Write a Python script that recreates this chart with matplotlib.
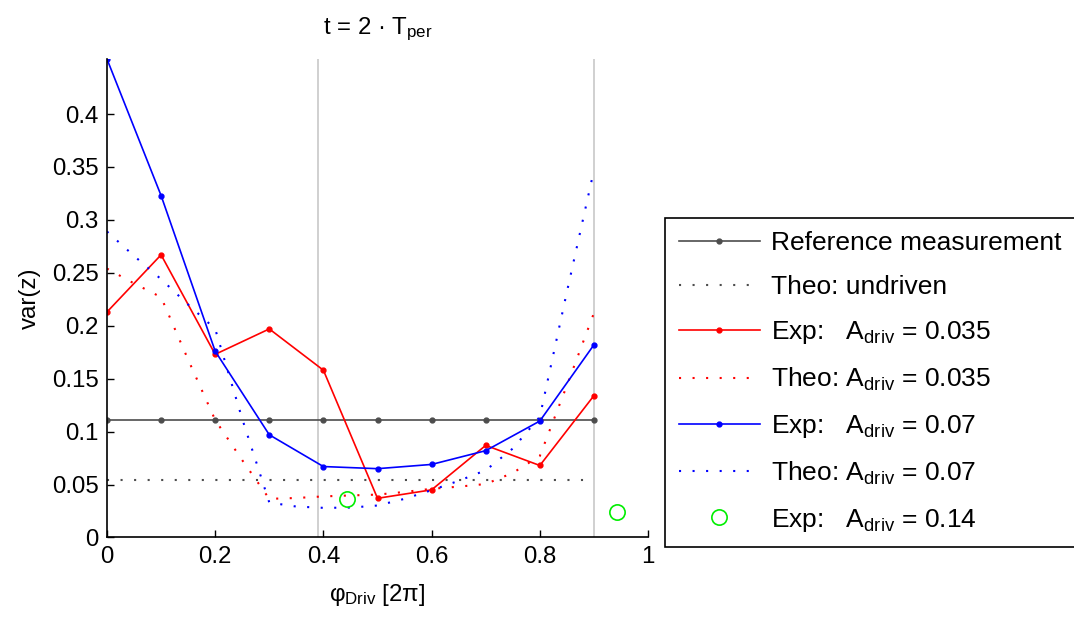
import numpy as np
import matplotlib
matplotlib.use('Agg')
import matplotlib.pyplot as plt

plt.rcParams['font.family'] = ['Liberation Sans', 'DejaVu Sans']
plt.rcParams['mathtext.fontset'] = 'custom'
plt.rcParams['mathtext.rm'] = 'Liberation Sans'
plt.rcParams['mathtext.it'] = 'Liberation Sans:italic'

# measured points (phase of drive in units of 2pi)
phi = [0.0, 0.1, 0.2, 0.3, 0.4, 0.5, 0.6, 0.7, 0.8, 0.9]
ref_var = [0.111] * 10
exp_035 = [0.213, 0.267, 0.173, 0.197, 0.158, 0.037, 0.045, 0.087, 0.068, 0.134]
exp_07 = [0.452, 0.323, 0.176, 0.097, 0.067, 0.065, 0.069, 0.082, 0.110, 0.182]

# theory curves
theo_undriven_phi = [0.0, 0.9]
theo_undriven = [0.054, 0.054]

theo_035_phi = [0.0, 0.05, 0.10, 0.15, 0.20, 0.25, 0.30, 0.35, 0.40, 0.45, 0.50,
                0.55, 0.60, 0.65, 0.70, 0.75, 0.80, 0.85, 0.90]
theo_035 = [0.254, 0.240, 0.227, 0.168, 0.111, 0.073, 0.0365, 0.0373, 0.0388, 0.0397,
            0.0405, 0.043, 0.046, 0.048, 0.0505, 0.061, 0.077, 0.1436, 0.212]

theo_07_phi = [0.0, 0.05, 0.10, 0.15, 0.20, 0.25, 0.30, 0.35, 0.40, 0.45, 0.50,
               0.55, 0.60, 0.65, 0.70, 0.75, 0.80, 0.85, 0.90]
theo_07 = [0.289, 0.266, 0.244, 0.220, 0.197, 0.112, 0.033, 0.0292, 0.028, 0.0282,
           0.0302, 0.0365, 0.0447, 0.0535, 0.0635, 0.084, 0.114, 0.232, 0.347]

exp_014_phi = [0.444, 0.943]
exp_014 = [0.036, 0.024]

marker_lines = [0.39, 0.9]

fs = 17.3
dot = (0, (1.0, 5.5))

fig = plt.figure(figsize=(10.74, 6.19), dpi=100)
ax = fig.add_axes([0.0996, 0.1317, 0.5038, 0.773])

for xv in marker_lines:
    ax.axvline(xv, color='#c8c8c8', lw=1.2, zorder=1)

ax.plot(phi, ref_var, '-', color='#4d4d4d', lw=1.2, marker='.', ms=7,
        label='Reference measurement')
ax.plot(theo_undriven_phi, theo_undriven, color='#4d4d4d', lw=1.5, linestyle=dot,
        label='Theo: undriven')
ax.plot(phi, exp_035, '-', color='red', lw=1.2, marker='.', ms=7,
        label=r'Exp:   A$_{\mathregular{driv}}$ = 0.035')
ax.plot(theo_035_phi, theo_035, color='red', lw=1.5, linestyle=dot,
        label=r'Theo: A$_{\mathregular{driv}}$ = 0.035')
ax.plot(phi, exp_07, '-', color='blue', lw=1.2, marker='.', ms=7,
        label=r'Exp:   A$_{\mathregular{driv}}$ = 0.07')
ax.plot(theo_07_phi, theo_07, color='blue', lw=1.5, linestyle=dot,
        label=r'Theo: A$_{\mathregular{driv}}$ = 0.07')
ax.plot(exp_014_phi, exp_014, 'o', mfc='none', mec='#00ee00', ms=11, mew=1.2,
        linestyle='none', label=r'Exp:   A$_{\mathregular{driv}}$ = 0.14')

ax.set_xlim(0, 1)
ax.set_ylim(0, 0.452)
ax.set_xticks([0, 0.2, 0.4, 0.6, 0.8, 1.0])
ax.set_xticklabels(['0', '0.2', '0.4', '0.6', '0.8', '1'])
ax.set_yticks(np.arange(0, 0.41, 0.05))
ax.set_yticklabels(['0', '0.05', '0.1', '0.15', '0.2', '0.25', '0.3', '0.35', '0.4'])
ax.tick_params(direction='in', length=5, width=1, labelsize=fs, pad=6)
ax.spines['top'].set_visible(False)
ax.spines['right'].set_visible(False)
ax.spines['left'].set_linewidth(1.2)
ax.spines['bottom'].set_linewidth(1.2)

ax.set_xlabel(r'φ$_{\mathregular{Driv}}$ [2π]', fontsize=fs, labelpad=10)
ax.set_ylabel('var(z)', fontsize=fs, labelpad=8)
ax.set_title(r't = 2 · T$_{\mathregular{per}}$', fontsize=fs, pad=18)

leg = fig.legend(loc='center', bbox_to_anchor=(0.810, 0.382), fontsize=19,
                 frameon=True, fancybox=False, framealpha=1, edgecolor='black',
                 handlelength=3.1, handletextpad=0.4, labelspacing=0.75,
                 borderpad=0.5)
leg.get_frame().set_linewidth(1.2)

fig.savefig('out.png', dpi=100)
